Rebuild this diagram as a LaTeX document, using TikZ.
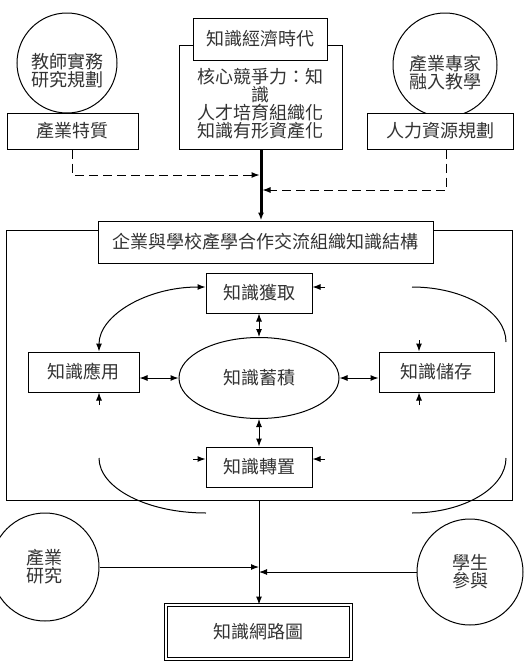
\documentclass[tikz,border=0pt]{standalone}
\usepackage{fontspec}
\setmainfont{Noto Sans CJK TC}
\usetikzlibrary{shapes.geometric,arrows.meta}
\tikzstyle{every node}=[font=\fontsize{18}{18}\selectfont, text=black!80, align=center, inner sep=0pt]
\tikzstyle{box}=[draw, fill=white, line width=1pt]
\tikzstyle{ring}=[circle, draw, fill=white, line width=1pt]
\tikzstyle{feed}=[dashed, dash pattern=on 9pt off 5pt, line width=1pt]

\begin{document}
\begin{tikzpicture}[x=1pt, y=-1pt, line width=1pt,
  >={Latex[length=8pt,width=6pt]}]
  \useasboundingbox (0,0) rectangle (529,672);
  \node[ring, minimum size=100pt, label={[yshift=-8pt]center:教師實務\\研究規劃}] (teacher) at (67,63) {};
  \node[box, minimum width=131pt, minimum height=36pt] (trait) at (72.5,131) {產業特質};
  \node[ring, minimum size=104pt, label={[yshift=-8pt]center:產業專家\\融入教學}] (expert) at (445,65) {};
  \node[box, minimum width=146pt, minimum height=36pt] (hr) at (440,131) {人力資源規劃};
  \node[box, minimum width=163pt, minimum height=104pt] (core) at (260.5,97) {};
  \node (coretext) at (260.5,104) {核心競爭力：知\\識\\人才培育組織化\\知識有形資產化};
  \node[box, minimum width=134pt, minimum height=42pt] (era) at (260,39) {知識經濟時代};

  \node[draw, minimum width=506pt, minimum height=270pt] (frame) at (259,365) {};
  \node[box, minimum width=335pt, minimum height=42pt] (frametitle) at (265.5,242) {企業與學校產學合作交流組織知識結構};

  \coordinate (join1) at (261,175);
  \coordinate (join2) at (261,190);
  \draw[feed, ->, shorten >=1.5pt] (trait.south) |- (join1);
  \draw[feed, ->, shorten >=1.5pt] ([xshift=6pt]hr.south) |- (join2);
  \draw[line width=3pt, ->] (core.south -| join1) -- (join1 |- frametitle.north);

  \node[box, minimum width=106pt, minimum height=40pt] (acquire) at (259,293) {知識獲取};
  \node[box, minimum width=111pt, minimum height=40pt] (apply) at (83.5,372) {知識應用};
  \node[ellipse, draw, minimum width=160pt, minimum height=81pt] (accum) at (259,378) {知識蓄積};
  \node[box, minimum width=115pt, minimum height=40pt] (store) at (436.5,372) {知識儲存};
  \node[box, minimum width=106pt, minimum height=40pt] (transfer) at (259,467) {知識轉置};

  \draw[<->] (acquire) -- (accum);
  \draw[<->] (accum) -- (transfer);
  \draw[<->] (accum.west) -- (accum.west -| apply.east);
  \draw[<->] (accum.east) -- (accum.east -| store.west);
  \draw[<->] ([xshift=15.5pt]apply.north) .. controls +(0,-36) and +(-59,0) .. ([yshift=6pt]acquire.west);

  \coordinate (acqin) at (325,287);
  \coordinate (stotop) at (419,340);
  \coordinate (stobot) at (419,405);
  \coordinate (appbot) at (99,405);
  \coordinate (trleft) at (193,459);
  \coordinate (trright) at (325,459);
  \draw[->] (acqin) -- (acqin -| acquire.east);
  \draw[->] (stotop) -- (stotop |- store.north);
  \draw[->] (stobot) -- (stobot |- store.south);
  \draw[->] (appbot) -- (appbot |- apply.south);
  \draw[->] (trleft) -- (trleft -| transfer.west);
  \draw[->] (trright) -- (trright -| transfer.east);

  \coordinate (arcA) at (412,287);
  \coordinate (arcB) at (506,342);
  \coordinate (arcC) at (99,458);
  \coordinate (arcD) at (206,513);
  \coordinate (arcE) at (506,458);
  \coordinate (arcF) at (412,513);
  \draw (arcA) .. controls +(52,0) and +(0,-30) .. (arcB);
  \draw (arcC) .. controls +(0,30) and +(-59,0) .. (arcD);
  \draw (arcE) .. controls +(0,30) and +(52,0) .. (arcF);

  \node[box, double, double distance=2pt, minimum width=185pt, minimum height=54pt] (netmap) at (258.5,632) {知識網路圖};
  \node[ring, minimum size=108pt] (industry) at (45,567) {產業\\研究};
  \node[ring, minimum size=106pt] (student) at (470,572) {學生\\參與};
  \draw[->] (frame.south) -- (frame.south |- netmap.north);
  \draw[->] (industry.east) -- (industry.east -| frame.south);
  \draw[->] (student.west) -- (student.west -| frame.south);
\end{tikzpicture}
\end{document}
